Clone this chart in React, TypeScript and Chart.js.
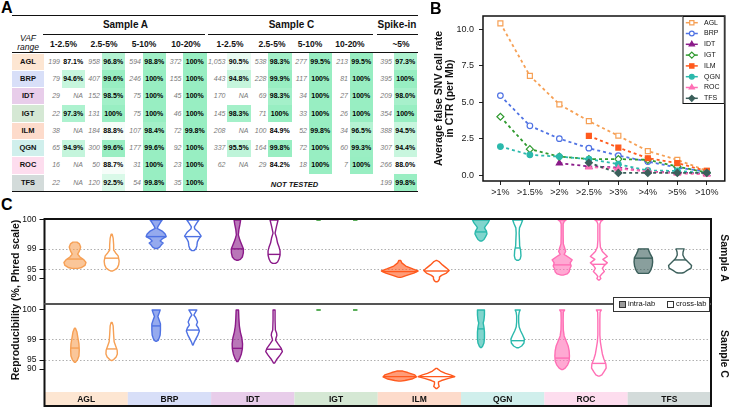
import React, { useEffect, useRef } from 'react';
import { Chart, registerables } from 'chart.js';

Chart.register(...registerables);

const FONT = "'Liberation Sans', Arial, Helvetica, sans-serif";
Chart.defaults.font.family = FONT;

// ---------------- shared ----------------
const LABS = ['AGL', 'BRP', 'IDT', 'IGT', 'ILM', 'QGN', 'ROC', 'TFS'];
const LAB_COLORS = ['#F6A055', '#4F72E3', '#8B1A89', '#2F9A2F', '#FF5A1E', '#2BB9AC', '#FF6FB5', '#3B5F5B'];
const LAB_PASTELS = ['#FDE6D2', '#D8DFF8', '#E8CDEA', '#D5E8D4', '#FDDBCB', '#D0EFEC', '#FDDDEE', '#D3DBDA'];

// ---------------- Panel A (table) ----------------
const GROUP_LABELS = ['Sample A', 'Sample C', 'Spike-in'];
const VAF_BINS = ['1-2.5%', '2.5-5%', '5-10%', '10-20%'];
const SPIKE_BIN = '~5%';
const COUNTS_A = [
  [199, 958, 594, 372],
  [79, 407, 246, 155],
  [29, 152, 75, 45],
  [22, 131, 75, 46],
  [38, 184, 107, 72],
  [65, 300, 177, 92],
  [16, 50, 31, 23],
  [22, 120, 54, 35],
];
const RATES_A = [
  [87.1, 96.8, 98.8, 100],
  [94.6, 99.6, 100, 100],
  [null, 98.5, 100, 100],
  [97.3, 100, 100, 100],
  [null, 88.8, 98.4, 99.8],
  [94.9, 99.6, 99.6, 100],
  [null, 88.7, 100, 100],
  [null, 92.5, 99.8, 100],
];
const COUNTS_C = [
  [1053, 538, 277, 213],
  [443, 228, 117, 81],
  [170, 69, 34, 27],
  [145, 71, 33, 26],
  [208, 100, 52, 34],
  [337, 164, 72, 60],
  [62, 29, 18, 7],
  null,
];
const RATES_C = [
  [90.5, 98.3, 99.5, 99.5],
  [94.8, 99.9, 100, 100],
  [null, 98.3, 100, 100],
  [98.3, 100, 100, 100],
  [null, 84.9, 99.8, 96.5],
  [95.5, 99.8, 100, 99.3],
  [null, 84.2, 100, 100],
  null,
];
const COUNTS_SPIKE = [395, 395, 209, 354, 388, 307, 266, 199];
const RATES_SPIKE = [97.3, 100, 98.0, 100, 94.5, 94.4, 88.0, 99.8];
const NOT_TESTED = 'NOT TESTED';

// ---------------- Panel B (line chart) ----------------
const THRESHOLDS = ['>1%', '>1.5%', '>2%', '>2.5%', '>3%', '>4%', '>5%', '>10%'];
const FALSE_AGL = [10.4, 6.8, 4.85, 3.7, 2.7, 1.65, 1.05, 0.3];
const FALSE_BRP = [5.45, 3.38, 2.5, 1.85, 1.34, 0.93, 0.52, 0.25];
const FALSE_IDT = [null, null, 0.82, 0.6, 0.52, 0.25, 0.18, 0.1];
const FALSE_IGT = [4.0, 1.78, 1.27, 1.1, 1.1, 1.05, 0.59, 0.18];
const FALSE_ILM = [null, null, null, 2.69, 1.89, 1.16, 0.82, 0.29];
const FALSE_QGN = [1.96, 1.39, 1.27, 1.1, 0.75, 0.32, 0.29, 0.14];
const FALSE_ROC = [null, null, null, 0.55, 0.45, 0.25, 0.12, 0.05];
const FALSE_TFS = [null, null, null, 0.85, 0.15, 0.15, 0.15, 0.15];
const FALSE_RATES = [FALSE_AGL, FALSE_BRP, FALSE_IDT, FALSE_IGT, FALSE_ILM, FALSE_QGN, FALSE_ROC, FALSE_TFS];
const Y_TICKS_B = [0, 2.5, 5, 7.5, 10];
const MARKER_STYLES = ['rect', 'circle', 'triangle', 'rectRot', 'rect', 'circle', 'triangle', 'rectRot'];
const MARKER_OPEN = [true, true, false, true, false, false, false, false];

// ---------------- Panel C (violins, Phred Q values) ----------------
const PHRED_TICKS = [30, 20, 13.01, 10];
const PHRED_TICK_LABELS = ['100', '99', '95', '90'];
const PHRED_GRID = [20, 13.01];
const VIOLIN_TYPES = ['intra-lab', 'cross-lab'];

const A_INTRA = [
  { q: [22.4, 21.8, 20.7, 19.4, 18.3, 17.3, 16.3, 15.4, 14.4, 13.6, 13.4], w: [2, 4.5, 5.7, 4.5, 2.7, 5, 9, 11, 10, 6, 3], med: 16.6 },
  { q: [30, 29.3, 27.9, 27.1, 26.2, 25.2, 24.3, 23.5, 22.8, 22.1, 21.4, 20.7, 20.2], w: [6, 4.5, 2, 1, 6, 9, 10, 6, 4, 7, 5, 3.5, 1], med: 24.3 },
  { q: [30, 28.3, 26.6, 24.9, 23.1, 21.4, 20.1, 18.7, 17.3, 16.5, 16.2], w: [3.3, 2.5, 1.5, 1, 2.5, 4.5, 6, 6, 5, 3, 1], med: 20.1 },
  { q: [30], w: [2.2], med: null },
  { q: [16.1, 15.3, 14.2, 13.2, 12.5, 11.8, 11, 10.4, 10.3], w: [1, 2, 6, 13, 18.3, 14, 7, 2, 0.5], med: 12.3 },
  { q: [30, 29, 27.9, 27.3, 26.2, 25.2, 24.2, 23.3, 22.8], w: [8.5, 7, 4.5, 3.5, 5.5, 6, 4.5, 3, 1], med: 25.9 },
  { q: [30, 29.5, 28.6, 24.9, 21.8, 20.4, 19.2, 18.2, 17.3, 16.3, 15.3, 14.2, 13.2, 12.2, 11.5, 11.1], w: [4, 2, 1, 1, 1.2, 2.5, 3.5, 2, 6, 10, 8, 9, 7.5, 7, 5, 1], med: 14.6 },
  { q: [20.1, 19.4, 18.3, 17, 15.6, 14.2, 12.9, 12, 11.7], w: [5, 5.5, 7, 9, 9.3, 8.8, 7.5, 6, 5], med: 16.9 },
];
const A_CROSS = [
  { q: [25.1, 23.8, 21.4, 19.7, 18.7, 17.7, 15.9, 14.6, 13.5, 12.9, 12.5], w: [0.5, 1.5, 2, 2, 4, 6.5, 7.5, 7, 5.5, 3, 1], med: 16.9 },
  { q: [30, 29, 27.6, 26.9, 25.9, 24.5, 23.5, 22.5, 21.1, 20.1, 19.5], w: [6, 4, 1.5, 2, 5.5, 8.3, 6, 4.5, 4, 3, 1], med: 24.3 },
  { q: [30, 27.9, 25.5, 23.8, 22.1, 20.7, 19.4, 18, 16.6, 15.6, 15.1], w: [4, 2.5, 1, 2.5, 3.5, 5, 6, 6, 5, 3.5, 1.5], med: 18.2 },
  { q: [30], w: [2.2], med: null },
  { q: [16.1, 15.6, 14.6, 13.5, 12.7, 11.8, 11, 10.4, 9.8, 9.1, 8.8], w: [0.5, 3, 6, 10, 12.7, 10, 5, 3, 3, 2, 0.5], med: 12.5 },
  { q: [30, 28.6, 27.3, 25.5, 23.1, 21.1, 19.4, 17.7, 16.6, 16.2], w: [5, 3.5, 1.8, 1.5, 1.8, 2, 3, 3.3, 2.5, 1], med: 20.4 },
  { q: [30, 29.5, 28.6, 23.1, 20.7, 19.2, 18.3, 17.5, 16.5, 15.3, 14.2, 13.4, 12.3, 11.5, 10.6, 9.9, 9.4], w: [4, 2, 1, 1, 1.5, 3.5, 6, 8.5, 4, 8.5, 5, 3.5, 5.5, 3, 1, 2, 0.5], med: 14.8 },
  { q: [20.1, 19, 18, 16.8, 15.6, 14.4, 13.5, 12.7, 12, 11.8], w: [4, 3, 2.8, 4.5, 8, 11.5, 11, 7, 4, 2], med: 16.3 },
];
const C_INTRA = [
  { q: [23.8, 22.5, 20.5, 18.5, 16.4, 14.4, 13.1, 12.3], w: [0.5, 2, 3, 4, 4.3, 4, 2.5, 0.5], med: 17.1 },
  { q: [30, 29, 27.8, 26.6, 25.3, 23.2, 21.5, 20.5, 19.7, 19.4], w: [4, 3, 1.7, 3, 4.3, 4.3, 4, 3, 2, 0.5], med: 24.6 },
  { q: [30, 27.3, 24.6, 22.5, 20.5, 18.5, 16.8, 15.1, 13.7, 12.5], w: [1.2, 1.5, 2, 3, 4.5, 5.2, 5, 4, 2.5, 0.5], med: 17.0 },
  { q: [30], w: [2.2], med: null },
  { q: [9.3, 8.8, 8, 7.3, 6.6, 6.1, 5.9], w: [3, 8, 15, 16.7, 12, 5, 1], med: 7.4 },
  { q: [30, 28.3, 26.6, 25.6, 24.2, 22.5, 20.5, 18.8, 17.6, 17.3], w: [3.5, 3.5, 3, 2.2, 3, 3.5, 3.5, 3, 1.5, 0.5], med: 23.6 },
  { q: [30, 29.3, 26.6, 23.2, 21.2, 19.5, 17.8, 16.1, 14.4, 12.7, 11.4, 10.3, 9.8], w: [2.5, 1.2, 1, 1.2, 2, 4, 6, 7, 7.3, 7, 5.5, 3, 0.5], med: 13.7 },
  null,
];
const C_CROSS = [
  { q: [25.8, 24.6, 21.5, 19.2, 17.8, 16.4, 15.1, 14.1, 13.2, 12.9], w: [0.5, 1.5, 2, 2.5, 4, 5.5, 5.7, 4.5, 2, 0.5], med: 16.8 },
  { q: [30, 29.2, 28.3, 27.3, 25.9, 24.9, 23.9, 22.9, 21.5, 20.2, 19.2, 18.1], w: [4, 2.5, 1, 3, 4.7, 3.5, 5.5, 6.5, 5, 3, 1.5, 0.3], med: 23.2 },
  { q: [30, 26.6, 23.2, 22.2, 21.4, 20.5, 19.8, 18.5, 17.1, 15.9, 14.7, 13.4, 12.0], w: [1, 1, 1.3, 2.5, 2.8, 2, 1.5, 4, 7, 8.3, 6, 3, 0.5], med: 16.7 },
  { q: [30], w: [2.2], med: null },
  { q: [10.2, 9.3, 8.5, 8, 7.4, 6.8, 6.1, 5.6, 4.9, 4.1, 3.4], w: [0.5, 4, 9, 14, 18.3, 12, 5, 2, 2, 2.7, 0.5], med: 7.4 },
  { q: [30, 29.2, 28, 25.9, 24.2, 22.9, 21.5, 20.2, 18.8, 17.8, 17.2], w: [2.5, 1.5, 1, 1, 1.5, 3, 5, 6.7, 6.3, 4, 1], med: 19.6 },
  { q: [30, 29.3, 26.6, 21.5, 19.2, 17.1, 15.1, 13.4, 11.7, 10.3, 9, 8, 7.6], w: [2.5, 1.2, 1, 1, 1.5, 2.5, 3.5, 5, 7, 7.3, 5, 3, 0.5], med: 11.9 },
  null,
];

// ---------------- helpers ----------------
const DODGE = 0.226;
const DENSITY_UNIT = 1 / 81.2;

function hexToRgba(hex, a) {
  const h = hex.replace('#', '');
  const r = parseInt(h.slice(0, 2), 16), g = parseInt(h.slice(2, 4), 16), b = parseInt(h.slice(4, 6), 16);
  return `rgba(${r},${g},${b},${a})`;
}

function shade(v) {
  const t = Math.max(0, Math.min(1, (v - 87) / 12.5));
  const k = Math.pow(t, 1.2);
  const mix = (a, b) => Math.round(a + (b - a) * k);
  return `rgb(${mix(255, 152)},${mix(255, 238)},${mix(255, 194)})`;
}

function drawMarker(ctx, style, x, y, r, color, open) {
  ctx.save();
  ctx.setLineDash([]);
  ctx.lineWidth = 1.2;
  ctx.strokeStyle = color;
  ctx.fillStyle = open ? '#fff' : color;
  ctx.beginPath();
  if (style === 'rect') {
    const s = r * 0.71;
    ctx.rect(x - s, y - s, 2 * s, 2 * s);
  } else if (style === 'circle') {
    ctx.arc(x, y, r * 0.8, 0, Math.PI * 2);
  } else if (style === 'triangle') {
    ctx.moveTo(x, y - r);
    ctx.lineTo(x + r * 0.87, y + r * 0.5);
    ctx.lineTo(x - r * 0.87, y + r * 0.5);
    ctx.closePath();
  } else {
    ctx.moveTo(x, y - r);
    ctx.lineTo(x + r, y);
    ctx.lineTo(x, y + r);
    ctx.lineTo(x - r, y);
    ctx.closePath();
  }
  ctx.fill();
  ctx.stroke();
  ctx.restore();
}

// ---------------- Panel A ----------------
const GREEN_LEFT = [61.5, 101.5, 142.5, 183, 227, 268, 308.5, 349.5, 393.5];
const GREEN_W = 23.5;
const HEAD_CX = [63.5, 104, 144, 186, 230, 272, 310, 350, 401];
const ROW_TOP0 = 53;
const ROW_H = 17.3;

function Txt({ s, x, y, align = 'center', size = 8, weight = 400, italic = false, color = '#111' }) {
  const w = 200;
  const left = align === 'center' ? x - w / 2 : align === 'right' ? x - w : x;
  return (
    <div style={{
      position: 'absolute', left, top: y - 10, width: w, height: 20, lineHeight: '20px',
      textAlign: align as any, fontSize: size, fontWeight: weight, fontStyle: italic ? 'italic' : 'normal',
      color, whiteSpace: 'nowrap', fontFamily: FONT,
    }}>{s}</div>
  );
}

function HLine({ x1, x2, y, t }) {
  return <div style={{ position: 'absolute', left: x1, top: y - t / 2, width: x2 - x1, height: t, background: '#111' }} />;
}

function cellData(r, c) {
  if (c < 4) return { n: COUNTS_A[r][c], v: RATES_A[r][c] };
  if (c < 8) return COUNTS_C[r] ? { n: COUNTS_C[r][c - 4], v: RATES_C[r][c - 4] } : null;
  return { n: COUNTS_SPIKE[r], v: RATES_SPIKE[r] };
}

function TablePanel() {
  const items = [];
  let k = 0;
  LABS.forEach((lab, r) => {
    const top = ROW_TOP0 + r * ROW_H;
    items.push(<div key={k++} style={{ position: 'absolute', left: 12, top: top + 0.5, width: 32, height: ROW_H - 1, background: LAB_PASTELS[r] }} />);
    for (let c = 0; c < 9; c++) {
      const d = cellData(r, c);
      if (d && d.v != null) {
        items.push(<div key={k++} style={{ position: 'absolute', left: GREEN_LEFT[c], top, width: GREEN_W, height: ROW_H + 0.2, background: shade(d.v) }} />);
      }
    }
  });
  items.push(<HLine key={k++} x1={12} x2={418} y={15.5} t={1.6} />);
  items.push(<HLine key={k++} x1={43} x2={205} y={34} t={1} />);
  items.push(<HLine key={k++} x1={208} x2={373} y={34} t={1} />);
  items.push(<HLine key={k++} x1={377} x2={418} y={34} t={1} />);
  items.push(<HLine key={k++} x1={12} x2={418} y={52.7} t={1} />);
  items.push(<HLine key={k++} x1={12} x2={418} y={191.6} t={1.6} />);
  items.push(<Txt key={k++} s={GROUP_LABELS[0]} x={125.5} y={25} size={10} weight={700} />);
  items.push(<Txt key={k++} s={GROUP_LABELS[1]} x={291.5} y={25} size={10} weight={700} />);
  items.push(<Txt key={k++} s={GROUP_LABELS[2]} x={397} y={25} size={10} weight={700} />);
  items.push(<Txt key={k++} s="VAF" x={28} y={37.5} size={8.5} italic />);
  items.push(<Txt key={k++} s="range" x={28} y={47} size={8.5} italic />);
  const heads = [...VAF_BINS, ...VAF_BINS, SPIKE_BIN];
  heads.forEach((h, c) => items.push(<Txt key={k++} s={h} x={HEAD_CX[c]} y={44.3} size={8.5} weight={700} />));
  LABS.forEach((lab, r) => {
    const cy = ROW_TOP0 + r * ROW_H + ROW_H / 2;
    items.push(<Txt key={k++} s={lab} x={28} y={cy} size={7.5} weight={700} />);
    for (let c = 0; c < 9; c++) {
      const d = cellData(r, c);
      if (!d) continue;
      items.push(<Txt key={k++} s={d.n.toLocaleString('en-US')} x={GREEN_LEFT[c] - 1.5} y={cy} align="right" size={7} italic color="#7a7a7a" />);
      if (d.v == null) {
        items.push(<Txt key={k++} s="NA" x={GREEN_LEFT[c] + GREEN_W - 2} y={cy} align="right" size={7} italic color="#7a7a7a" />);
      } else {
        const s = d.v === 100 ? '100%' : d.v.toFixed(1) + '%';
        items.push(<Txt key={k++} s={s} x={GREEN_LEFT[c] + GREEN_W / 2} y={cy} size={7} weight={700} color="#000" />);
      }
    }
  });
  items.push(<Txt key={k++} s={NOT_TESTED} x={294.5} y={185} size={7.5} weight={700} italic />);
  return <>{items}</>;
}

// ---------------- Panel B ----------------
const legendInside = {
  id: 'legendInside',
  afterDraw(chart) {
    const { ctx, chartArea: a } = chart;
    const w = 42.3, h = 88, rowH = 10.8;
    const x0 = a.right - w, y0 = a.top;
    ctx.save();
    ctx.fillStyle = '#fff';
    ctx.fillRect(x0, y0, w, h);
    ctx.strokeStyle = '#111';
    ctx.lineWidth = 1;
    ctx.strokeRect(x0 + 0.5, y0 + 0.5, w - 1, h - 1);
    chart.data.datasets.forEach((ds, i) => {
      const cy = y0 + 6.7 + i * rowH;
      ctx.strokeStyle = ds.borderColor;
      ctx.lineWidth = 1.5;
      ctx.setLineDash([]);
      ctx.beginPath();
      ctx.moveTo(x0 + 3.3, cy);
      ctx.lineTo(x0 + 15.3, cy);
      ctx.stroke();
      drawMarker(ctx, MARKER_STYLES[i], x0 + 9.3, cy, 3, ds.borderColor, MARKER_OPEN[i]);
      ctx.fillStyle = '#111';
      ctx.font = `7px ${FONT}`;
      ctx.textBaseline = 'middle';
      ctx.textAlign = 'left';
      ctx.fillText(ds.label, x0 + 21.5, cy);
    });
    ctx.restore();
  },
};

const frameB = {
  id: 'frameB',
  afterDatasetsDraw(chart) {
    const { ctx, chartArea: a } = chart;
    ctx.save();
    ctx.strokeStyle = '#111';
    ctx.lineWidth = 1.5;
    ctx.strokeRect(a.left, a.top, a.right - a.left, a.bottom - a.top);
    ctx.restore();
  },
};

function FalseCallChart() {
  const ref = useRef(null);
  useEffect(() => {
    const datasets = LABS.map((lab, i) => ({
      label: lab,
      data: FALSE_RATES[i].map((v, j) => ({ x: j, y: v })),
      borderColor: LAB_COLORS[i],
      backgroundColor: LAB_COLORS[i],
      borderDash: [3, 3],
      borderWidth: 1.8,
      pointStyle: MARKER_STYLES[i],
      pointRadius: MARKER_STYLES[i] === 'circle' ? 2.8 : 3.5,
      pointBackgroundColor: MARKER_OPEN[i] ? '#fff' : LAB_COLORS[i],
      pointBorderColor: LAB_COLORS[i],
      pointBorderWidth: 1.2,
      tension: 0,
      order: LABS.length - i,
    }));
    const chart = new Chart(ref.current, {
      type: 'line',
      data: { datasets },
      options: {
        animation: false,
        responsive: false,
        layout: { padding: { top: 16, right: 1, left: 0, bottom: 0 } },
        plugins: { legend: { display: false }, tooltip: { enabled: false } },
        scales: {
          x: {
            type: 'linear', min: -0.59, max: 7.61,
            afterBuildTicks: (s) => { s.ticks = THRESHOLDS.map((_, i) => ({ value: i })); },
            afterFit: (s) => { s.height = 24; s.paddingLeft = 0; s.paddingRight = 0; },
            ticks: { callback: (v) => THRESHOLDS[v], font: { size: 9 }, color: '#222', padding: 2, maxRotation: 0, autoSkip: false },
            grid: { drawOnChartArea: false, tickLength: 4, tickColor: '#222' },
            border: { display: false },
          },
          y: {
            type: 'linear', min: -0.4, max: 10.9,
            afterBuildTicks: (s) => { s.ticks = Y_TICKS_B.map((v) => ({ value: v })); },
            afterFit: (s) => { s.width = 53; s.paddingTop = 0; s.paddingBottom = 0; },
            ticks: { callback: (v) => Number(v).toFixed(1), font: { size: 9 }, color: '#222', padding: 5, autoSkip: false },
            grid: { drawOnChartArea: false, tickLength: 4, tickColor: '#222' },
            border: { display: false },
            title: {
              display: true,
              text: ['Average false SNV call rate', 'in CTR (per Mb)'],
              font: { size: 10.5, weight: 'bold', lineHeight: 1.0 },
              color: '#111',
              padding: { top: 4, bottom: 0 },
            },
          },
        },
      },
      plugins: [frameB, legendInside],
    });
    return () => chart.destroy();
  }, []);
  return <canvas ref={ref} width={300} height={205} style={{ position: 'absolute', left: 430, top: 0, width: 300, height: 205 }} />;
}

// ---------------- Panel C ----------------
function drawViolin(ctx, xs, ys, cx, v, color, filled) {
  const X = (val) => xs.getPixelForValue(val);
  const Y = (q) => ys.getPixelForValue(q);
  ctx.save();
  ctx.strokeStyle = color;
  ctx.lineWidth = 1.4;
  ctx.lineJoin = 'round';
  if (v.q.length === 1) {
    ctx.lineWidth = 1.6;
    ctx.beginPath();
    ctx.moveTo(X(cx - v.w[0] * DENSITY_UNIT), Y(v.q[0]));
    ctx.lineTo(X(cx + v.w[0] * DENSITY_UNIT), Y(v.q[0]));
    ctx.stroke();
    ctx.restore();
    return;
  }
  ctx.beginPath();
  v.q.forEach((q, i) => {
    const px = X(cx - v.w[i] * DENSITY_UNIT), py = Y(q);
    if (i === 0) ctx.moveTo(px, py); else ctx.lineTo(px, py);
  });
  for (let i = v.q.length - 1; i >= 0; i--) ctx.lineTo(X(cx + v.w[i] * DENSITY_UNIT), Y(v.q[i]));
  ctx.closePath();
  ctx.fillStyle = filled ? hexToRgba(color, 0.6) : '#fff';
  ctx.fill();
  ctx.stroke();
  if (v.med != null) {
    let wm = v.w[0];
    for (let i = 0; i < v.q.length - 1; i++) {
      const a = v.q[i], b = v.q[i + 1];
      if (v.med <= a && v.med >= b) {
        const t = (a - v.med) / (a - b || 1);
        wm = v.w[i] + (v.w[i + 1] - v.w[i]) * t;
        break;
      }
    }
    ctx.beginPath();
    ctx.moveTo(X(cx - wm * DENSITY_UNIT), Y(v.med));
    ctx.lineTo(X(cx + wm * DENSITY_UNIT), Y(v.med));
    ctx.stroke();
  }
  ctx.restore();
}

function makeViolinPlugin(intra, cross, isBottom) {
  return {
    id: 'violins',
    beforeDatasetsDraw(chart) {
      if (!isBottom) return;
      const { ctx, chartArea: a } = chart;
      const w = (a.right - a.left) / LABS.length;
      ctx.save();
      LABS.forEach((lab, k) => {
        ctx.fillStyle = LAB_PASTELS[k];
        ctx.fillRect(a.left + k * w, a.bottom - 14, w, 14);
        ctx.fillStyle = '#111';
        ctx.font = `bold 8.5px ${FONT}`;
        ctx.textAlign = 'center';
        ctx.textBaseline = 'middle';
        ctx.fillText(lab, a.left + (k + 0.5) * w, a.bottom - 6.5);
      });
      ctx.restore();
    },
    afterDatasetsDraw(chart) {
      const { ctx, scales } = chart;
      intra.forEach((v, k) => { if (v) drawViolin(ctx, scales.x, scales.y, k + 1 - DODGE, v, LAB_COLORS[k], true); });
      cross.forEach((v, k) => { if (v) drawViolin(ctx, scales.x, scales.y, k + 1 + DODGE, v, LAB_COLORS[k], false); });
    },
    afterDraw(chart) {
      const { ctx, chartArea: a } = chart;
      ctx.save();
      ctx.lineWidth = 2;
      ctx.strokeStyle = '#111';
      ctx.beginPath();
      ctx.moveTo(a.left, a.top - (isBottom ? 0 : 1));
      ctx.lineTo(a.left, a.bottom + (isBottom ? 1 : 0));
      ctx.moveTo(a.right, a.top - (isBottom ? 0 : 1));
      ctx.lineTo(a.right, a.bottom + (isBottom ? 1 : 0));
      if (isBottom) { ctx.moveTo(a.left - 1, a.bottom); ctx.lineTo(a.right + 1, a.bottom); }
      else { ctx.moveTo(a.left - 1, a.top); ctx.lineTo(a.right + 1, a.top); }
      ctx.stroke();
      ctx.strokeStyle = '#555';
      ctx.beginPath();
      const yd = isBottom ? a.top : a.bottom;
      ctx.moveTo(a.left, yd);
      ctx.lineTo(a.right, yd);
      ctx.stroke();
      ctx.restore();
    },
  };
}

function ViolinChart({ intra, cross, isBottom, yMin, yMax, top, height, padTop, padBottom }) {
  const ref = useRef(null);
  useEffect(() => {
    const chart = new Chart(ref.current, {
      type: 'scatter',
      data: { datasets: [] },
      options: {
        animation: false,
        responsive: false,
        layout: { padding: { top: padTop, right: 3, left: 0, bottom: padBottom } },
        plugins: { legend: { display: false }, tooltip: { enabled: false } },
        scales: {
          x: { type: 'linear', min: 0.399, max: 8.607, display: false },
          y: {
            type: 'linear', min: yMin, max: yMax,
            afterBuildTicks: (s) => { s.ticks = PHRED_TICKS.map((v) => ({ value: v })); },
            afterFit: (s) => { s.width = 44.5; s.paddingTop = 0; s.paddingBottom = 0; },
            ticks: { callback: (v, i) => PHRED_TICK_LABELS[i], font: { size: 8.5 }, color: '#111', padding: 3, autoSkip: false },
            grid: {
              color: (c) => (c.tick && PHRED_GRID.includes(c.tick.value) ? '#b0b0b0' : 'rgba(0,0,0,0)'),
              lineWidth: 1,
              tickLength: 5,
              tickColor: '#111',
              tickWidth: 1,
            },
            border: { display: false, dash: [1.5, 2] },
          },
        },
      },
      plugins: [makeViolinPlugin(intra, cross, isBottom)],
    });
    return () => chart.destroy();
  }, []);
  return <canvas ref={ref} width={714} height={height} style={{ position: 'absolute', left: 0, top, width: 714, height }} />;
}

function PanelLetter({ s, x, y }) {
  return <div style={{ position: 'absolute', left: x, top: y, fontSize: 16, fontWeight: 700, fontFamily: FONT, lineHeight: '16px', color: '#000' }}>{s}</div>;
}

function Rotated({ s, cx, cy, deg, size }) {
  return (
    <div style={{
      position: 'absolute', left: cx - 120, top: cy - 8, width: 240, height: 16, lineHeight: '16px',
      textAlign: 'center', fontSize: size, fontWeight: 700, fontFamily: FONT, color: '#111',
      transform: `rotate(${deg}deg)`, transformOrigin: '50% 50%', whiteSpace: 'nowrap',
    }}>{s}</div>
  );
}

export default function App() {
  return (
    <div style={{ position: 'absolute', left: 0, top: 0, width: 730, height: 407, background: '#fff', overflow: 'hidden', fontFamily: FONT }}>
      <TablePanel />
      <FalseCallChart />
      <ViolinChart intra={A_INTRA} cross={A_CROSS} isBottom={false} yMin={1.18} yMax={30.34} top={213} height={93} padTop={6} padBottom={2} />
      <ViolinChart intra={C_INTRA} cross={C_CROSS} isBottom={true} yMin={-2.54} yMax={32.03} top={298} height={109} padTop={6} padBottom={1} />
      <PanelLetter s="A" x={1} y={0} />
      <PanelLetter s="B" x={430} y={1} />
      <PanelLetter s="C" x={1} y={197} />
      <Rotated s="Reproducibility (%, Phred scale)" cx={15} cy={300} deg={-90} size={10.5} />
      <Rotated s="Sample A" cx={725} cy={258} deg={90} size={10.5} />
      <Rotated s="Sample C" cx={725} cy={353.5} deg={90} size={10.5} />
      <div style={{ position: 'absolute', left: 613, top: 297, width: 95, height: 13, border: '1px solid #333', background: '#fff' }} />
      <div style={{ position: 'absolute', left: 619, top: 301, width: 5, height: 5, border: '1px solid #333', background: '#9a9a9a' }} />
      <Txt s={VIOLIN_TYPES[0]} x={628} y={304} align="left" size={7.5} />
      <div style={{ position: 'absolute', left: 667, top: 301, width: 5, height: 5, border: '1px solid #333', background: '#fff' }} />
      <Txt s={VIOLIN_TYPES[1]} x={676} y={304} align="left" size={7.5} />
    </div>
  );
}
